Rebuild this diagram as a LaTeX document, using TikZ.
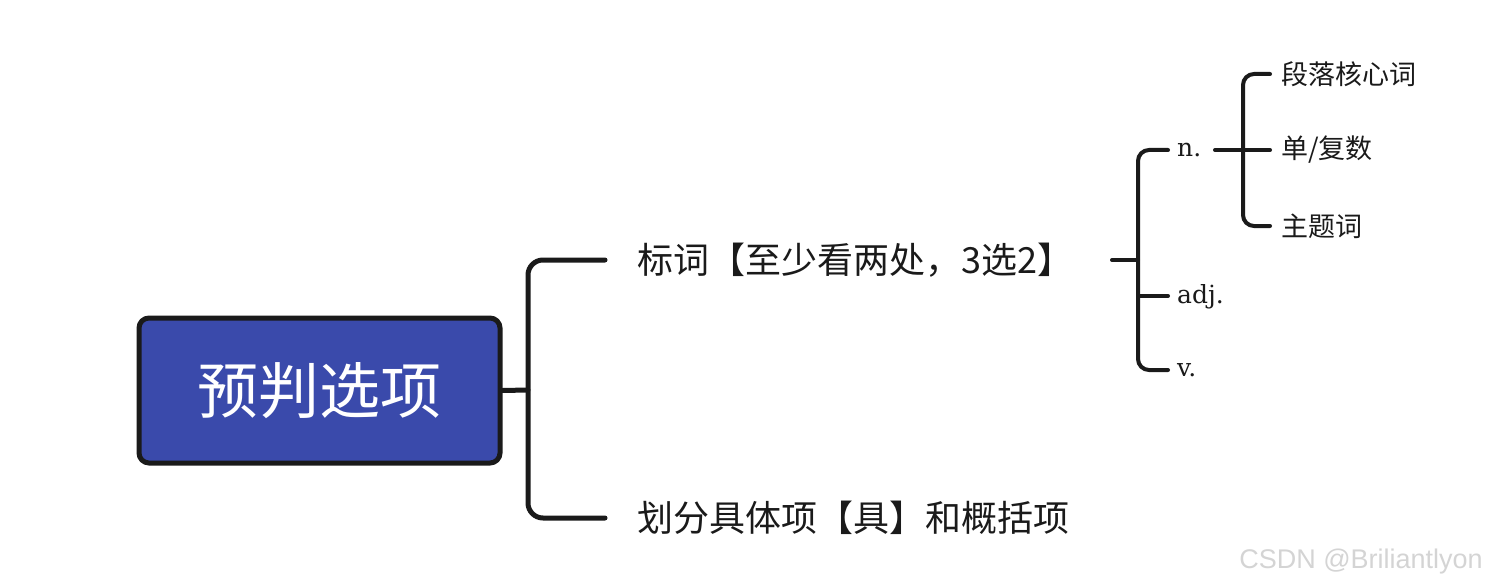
\documentclass[tikz,border=0pt]{standalone}
\usepackage{fontspec}
\newfontfamily\cjk{Noto Sans CJK SC}
\newfontfamily\latserif{DejaVu Serif}
\newfontfamily\wmfont{Liberation Sans}
\definecolor{rootfill}{HTML}{3A4AAB}
\definecolor{linecol}{HTML}{1A1A1A}
\definecolor{wmcol}{HTML}{D4D4D4}
\tikzset{
  rootbox/.style={draw=linecol, line width=5pt, fill=rootfill, rounded corners=10pt,
    minimum width=361pt, minimum height=145pt, inner sep=0pt,
    font=\cjk\fontsize{61}{66}\selectfont, text=white},
  lvlone/.style={anchor=west, inner sep=0pt, font=\cjk\fontsize{36}{40}\selectfont, text=linecol},
  lvltwo/.style={anchor=west, inner sep=0pt, font=\latserif\fontsize{25}{28}\selectfont, text=linecol},
  lvlthree/.style={anchor=west, inner sep=0pt, font=\cjk\fontsize{27}{32}\selectfont, text=linecol},
  mainline/.style={draw=linecol, line width=5pt, line cap=round},
  subline/.style={draw=linecol, line width=4pt, line cap=round},
}
\begin{document}
\begin{tikzpicture}[x=1pt, y=-1pt]
\useasboundingbox (0,0) rectangle (1487,588);

% root
\node[rootbox] (root) at (319.5,390.5) {预判选项};

% level one
\node[lvlone] (b1) at (637,260) {标词【至少看两处，3选2】};
\node[lvlone] (b2) at (637,518) {划分具体项【具】和概括项};

\coordinate (busA) at (528,390);
\coordinate (b1in) at (605,260);
\coordinate (b2in) at (605,518);
\draw[mainline] (root.east) -- (busA);
\draw[mainline, rounded corners=15pt] (b1in) -| (busA) |- (b2in);

% level two
\node[lvltwo] (n) at (1177,150) {n.};
\node[lvltwo] (adj) at (1177,297) {adj.};
\node[lvltwo] (v) at (1177,370) {v.};

\coordinate (b1out) at (1112,260);
\coordinate (busB) at (1138,260);
\coordinate (nin) at (1168,150);
\coordinate (adjin) at (1168,296);
\coordinate (vin) at (1168,370);
\draw[subline] (b1out) -- (busB);
\draw[subline, rounded corners=11pt] (nin) -| (busB) |- (vin);
\draw[subline] (busB |- adjin) -- (adjin);

% level three
\node[lvlthree] (c1) at (1281,74) {段落核心词};
\node[lvlthree] (c2) at (1281,150) {单/复数};
\node[lvlthree] (c3) at (1281,226) {主题词};

\coordinate (nout) at (1215,150);
\coordinate (busC) at (1243,150);
\coordinate (c1in) at (1270,74);
\coordinate (c2in) at (1270,150);
\coordinate (c3in) at (1270,226);
\draw[subline] (nout) -- (c2in);
\draw[subline, rounded corners=11pt] (c1in) -| (busC) |- (c3in);

% watermark
\node[anchor=east, inner sep=0pt, font=\wmfont\fontsize{27}{30}\selectfont, text=wmcol] (wm) at (1483,562) {CSDN @Briliantlyon};
\end{tikzpicture}
\end{document}
